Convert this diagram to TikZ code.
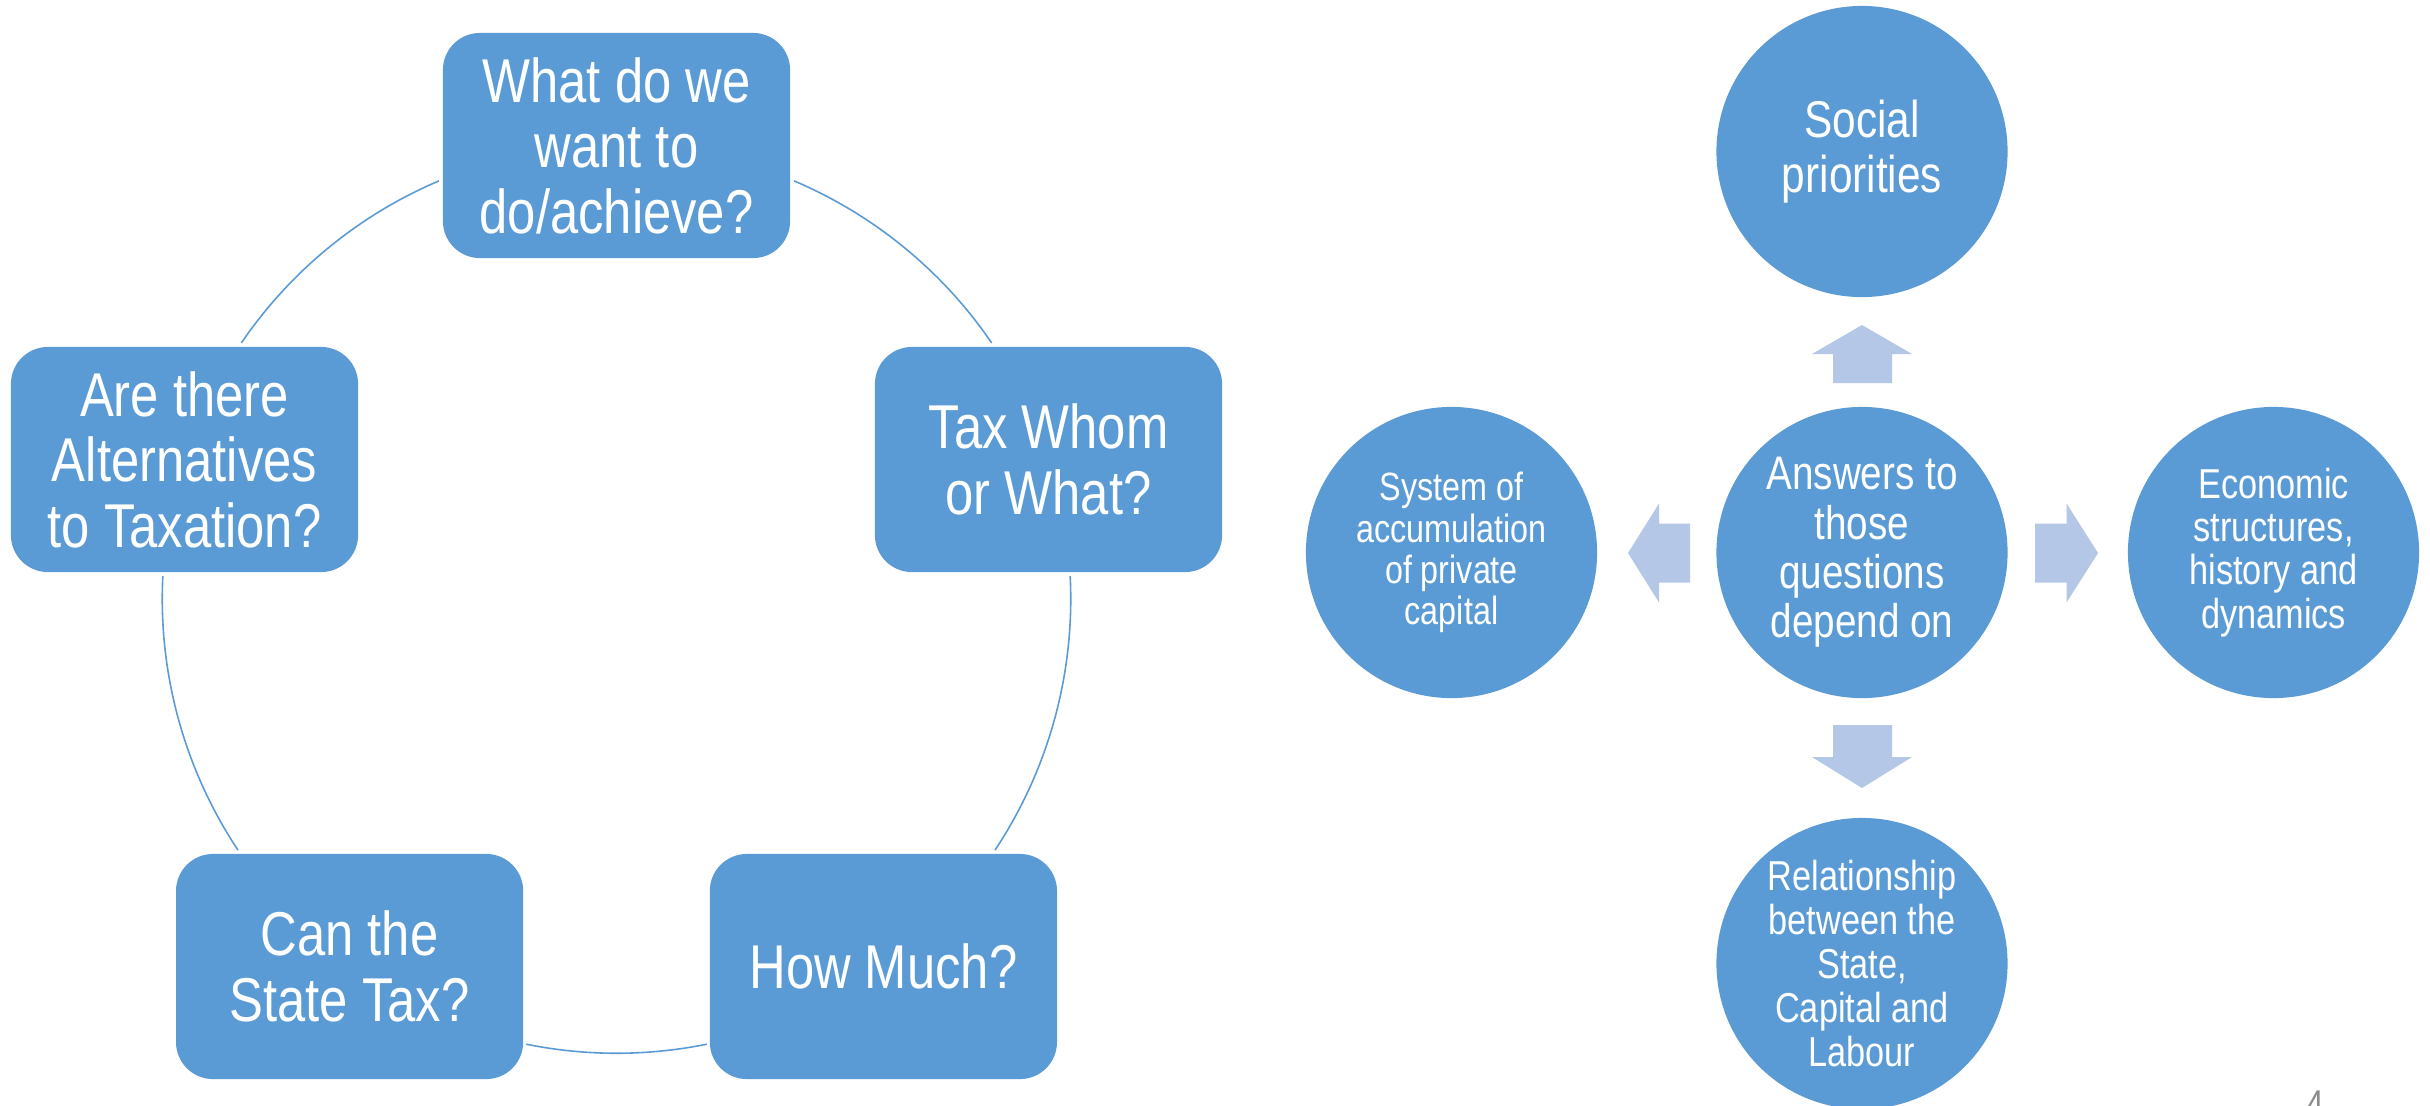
\documentclass[tikz,border=0pt]{standalone}
\usepackage{fontspec}
\setmainfont{Liberation Sans}[FakeStretch=0.82]
\definecolor{boxblue}{HTML}{5B9BD5}
\definecolor{arrowblue}{HTML}{B4C7E7}
\definecolor{pagegray}{HTML}{8C8C8C}
\begin{document}
\begin{tikzpicture}[x=0.01cm,y=-0.01cm,
  box/.style={rectangle, rounded corners=0.37cm, fill=boxblue, text=white, align=center,
    minimum width=3.47cm, minimum height=2.25cm, inner sep=0pt,
    font=\fontsize{17.6}{18.6}\selectfont},
  bubble/.style={circle, fill=boxblue, text=white, align=center, minimum size=2.91cm, inner sep=0pt},
  ring/.style={draw=boxblue, line width=0.45pt},
  blockarrow/.style={fill=arrowblue}]
\useasboundingbox (0,0) rectangle (2430,1105);
\fill[white] (0,0) rectangle (2430,1105);
% ---- cycle (left) ----
\coordinate (C) at (616.5,599);
\draw[ring] (C) ++(113.0:4.54cm) arc[start angle=113.0, end angle=145.67, radius=4.54cm];
\draw[ring] (C) ++(177.1:4.54cm) arc[start angle=177.1, end angle=213.56, radius=4.54cm];
\draw[ring] (C) ++(258.54:4.54cm) arc[start angle=258.54, end angle=281.46, radius=4.54cm];
\draw[ring] (C) ++(326.44:4.54cm) arc[start angle=326.44, end angle=362.9, radius=4.54cm];
\draw[ring] (C) ++(34.33:4.54cm) arc[start angle=34.33, end angle=67.0, radius=4.54cm];
\node[box] (what) at (616.5,145.5) {What do we\\want to\\do/achieve?};
\node[box] (whom) at (1048.5,459.5) {Tax Whom\\or What?};
\node[box] (much) at (883.4,966.5) {How Much?};
\node[box] (can) at (349.6,966.5) {Can the\\State Tax?};
\node[box] (alt) at (184.5,459.5) {Are there\\Alternatives\\to Taxation?};
% ---- radial (right) ----
\node[bubble, font=\fontsize{14.7}{15.6}\selectfont] (soc) at (1862,151.5) {Social\\priorities};
\node[bubble, font=\fontsize{13.4}{14}\selectfont] (ans) at (1862,552.5) {Answers to\\those\\questions\\depend on};
\node[bubble, font=\fontsize{11.2}{11.7}\selectfont] (sys) at (1451.5,552.5) {System of\\accumulation\\of private\\capital};
\node[bubble, font=\fontsize{11.9}{12.3}\selectfont] (eco) at (2273.5,552.5) {Economic\\structures,\\history and\\dynamics};
\node[bubble, font=\fontsize{11.9}{12.5}\selectfont] (rel) at (1862,963.5) {Relationship\\between the\\State,\\Capital and\\Labour};
% block arrows
\fill[blockarrow] (1862,325) -- (1912,354) -- (1892,354) -- (1892,383) -- (1833,383) -- (1833,354) -- (1812,354) -- cycle;
\fill[blockarrow] (1833,725) -- (1892,725) -- (1892,757) -- (1912,757) -- (1862,788) -- (1812,757) -- (1833,757) -- cycle;
\fill[blockarrow] (1628,553) -- (1659,503.5) -- (1659,523.5) -- (1690,523.5) -- (1690,582.5) -- (1659,582.5) -- (1659,602.5) -- cycle;
\fill[blockarrow] (2098,553) -- (2066.5,503.5) -- (2066.5,523.5) -- (2035,523.5) -- (2035,582.5) -- (2066.5,582.5) -- (2066.5,602.5) -- cycle;
% page number
\node[anchor=north, inner sep=0pt, text=pagegray, font=\fontsize{11}{13}\selectfont] (pg) at (2315,1090) {4};
\end{tikzpicture}
\end{document}
